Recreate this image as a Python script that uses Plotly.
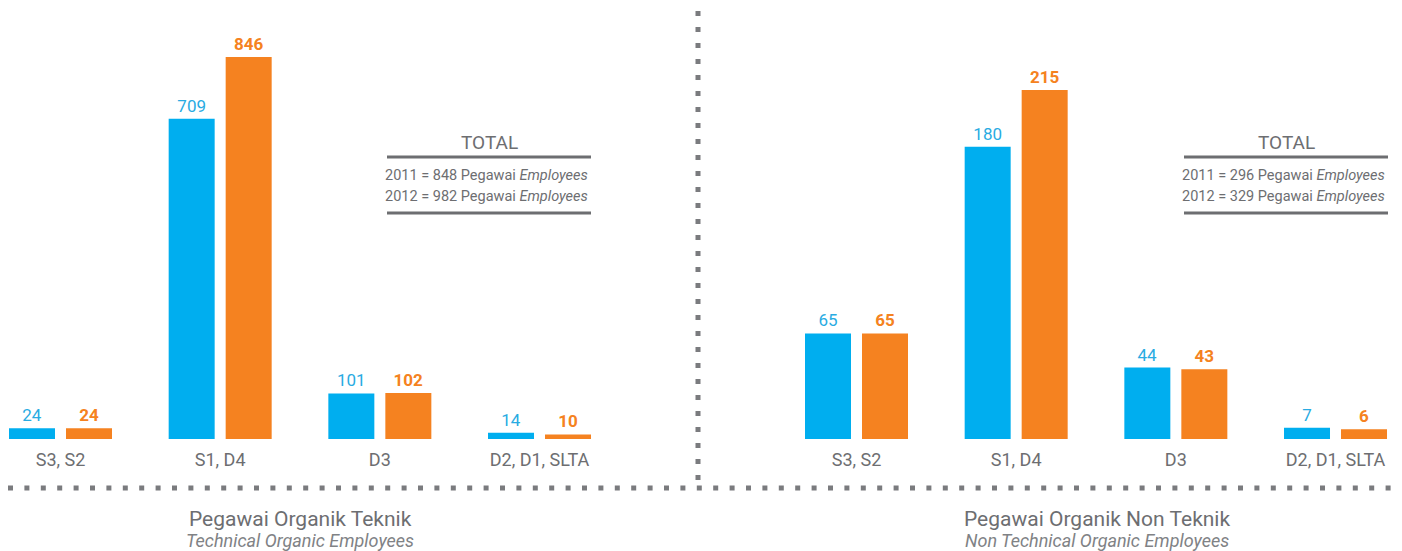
import plotly.graph_objects as go

categories = ["S3, S2", "S1, D4", "D3", "D2, D1, SLTA"]
teknik_2011 = [24, 709, 101, 14]
teknik_2012 = [24, 846, 102, 10]
non_teknik_2011 = [65, 180, 44, 7]
non_teknik_2012 = [65, 215, 43, 6]
totals_teknik = {"2011": 848, "2012": 982}
totals_non_teknik = {"2011": 296, "2012": 329}
panel_titles = ["Pegawai Organik Teknik", "Pegawai Organik Non Teknik"]
panel_subtitles = ["Technical Organic Employees", "Non Technical Organic Employees"]

W, H = 1402, 551
BLUE = "#00AEEF"
ORANGE = "#F58220"
GRAY = "#6D6E71"
DOT = "#7A7B7E"
FONT = "Roboto, Arial, sans-serif"

spacing = 159.67
bw = 46 / spacing
off_b = -51.5 / spacing
off_o = 5.5 / spacing

fig = go.Figure()

def add_pair(v11, v12, xa, ya):
    idx = list(range(len(categories)))
    fig.add_trace(go.Bar(x=idx, y=v11, width=bw, offset=off_b, marker_color=BLUE,
                         text=[str(v) for v in v11], textposition="outside",
                         textfont=dict(color="#29ABE2", size=17, family=FONT),
                         cliponaxis=False, xaxis=xa, yaxis=ya, showlegend=False,
                         marker_line_width=0, hoverinfo="skip"))
    fig.add_trace(go.Bar(x=idx, y=v12, width=bw, offset=off_o, marker_color=ORANGE,
                         text=[str(v) for v in v12], textposition="outside",
                         textfont=dict(color=ORANGE, size=17, family=FONT, weight="bold"),
                         cliponaxis=False, xaxis=xa, yaxis=ya, showlegend=False,
                         marker_line_width=0, hoverinfo="skip"))

add_pair(teknik_2011, teknik_2012, "x", "y")
add_pair(non_teknik_2011, non_teknik_2012, "x2", "y2")

ydom = [112 / H, 1]
r0_l = -60.5 / spacing
r0_r = -(856.5 - 701) / spacing
span = 701 / spacing
xcommon = dict(tickmode="array", tickvals=list(range(4)), ticktext=categories,
               showgrid=False, zeroline=False, showline=False, ticks="",
               tickfont=dict(size=18, color=GRAY, family=FONT), ticklabelstandoff=8)
ycommon = dict(visible=False, showgrid=False, zeroline=False, domain=ydom)

fig.update_layout(
    width=W, height=H, margin=dict(l=0, r=0, t=0, b=0),
    paper_bgcolor="white", plot_bgcolor="white", barmode="overlay",
    xaxis=dict(domain=[0, 0.5], range=[r0_l, r0_l + span], anchor="y", **xcommon),
    xaxis2=dict(domain=[0.5, 1], range=[r0_r, r0_r + span], anchor="y2", **xcommon),
    yaxis=dict(range=[0, 846 * 439 / 382], anchor="x", **ycommon),
    yaxis2=dict(range=[0, 215 * 439 / 349], anchor="x2", **ycommon),
    font=dict(family=FONT, color=GRAY),
)

def px(x):
    return x / W

def py(y):
    return 1 - y / H

shapes = []
# dotted separators
shapes.append(dict(type="line", xref="paper", yref="paper", x0=px(698), x1=px(698),
                   y0=py(11), y1=py(488), line=dict(color=DOT, width=5, dash="5px,11px")))
shapes.append(dict(type="line", xref="paper", yref="paper", x0=px(8), x1=px(1400),
                   y0=py(488), y1=py(488), line=dict(color=DOT, width=5, dash="5px,11.4px")))

annotations = []
for (x0, x1, tot) in [(387, 591, totals_teknik), (1184, 1388, totals_non_teknik)]:
    for yy in (157, 213):
        shapes.append(dict(type="line", xref="paper", yref="paper", x0=px(x0), x1=px(x1),
                           y0=py(yy), y1=py(yy), line=dict(color=GRAY, width=3)))
    annotations.append(dict(text="TOTAL", x=px((x0 + x1) / 2), y=py(142), xref="paper", yref="paper",
                            showarrow=False, font=dict(size=19, color=GRAY, family=FONT),
                            xanchor="center", yanchor="middle"))
    for i, yr in enumerate(["2011", "2012"]):
        annotations.append(dict(text=f"{yr} = {tot[yr]} Pegawai <i>Employees</i>",
                                x=px(x1 - 1), y=py(175 + 21 * i), xref="paper", yref="paper",
                                showarrow=False, font=dict(size=14.5, color=GRAY, family=FONT),
                                xanchor="right", yanchor="middle"))

for cx, t, s in [(300, panel_titles[0], panel_subtitles[0]), (1097, panel_titles[1], panel_subtitles[1])]:
    annotations.append(dict(text=t, x=px(cx), y=py(519), xref="paper", yref="paper",
                            showarrow=False, font=dict(size=21, color=GRAY, family=FONT),
                            xanchor="center", yanchor="middle"))
    annotations.append(dict(text=f"<i>{s}</i>", x=px(cx), y=py(540), xref="paper", yref="paper",
                            showarrow=False, font=dict(size=18, color="#808285", family=FONT),
                            xanchor="center", yanchor="middle"))

fig.update_layout(shapes=shapes, annotations=annotations)
fig.write_html("out.html", config={"displayModeBar": False},
               post_script="document.body.style.margin='0';document.body.style.overflow='hidden';")
